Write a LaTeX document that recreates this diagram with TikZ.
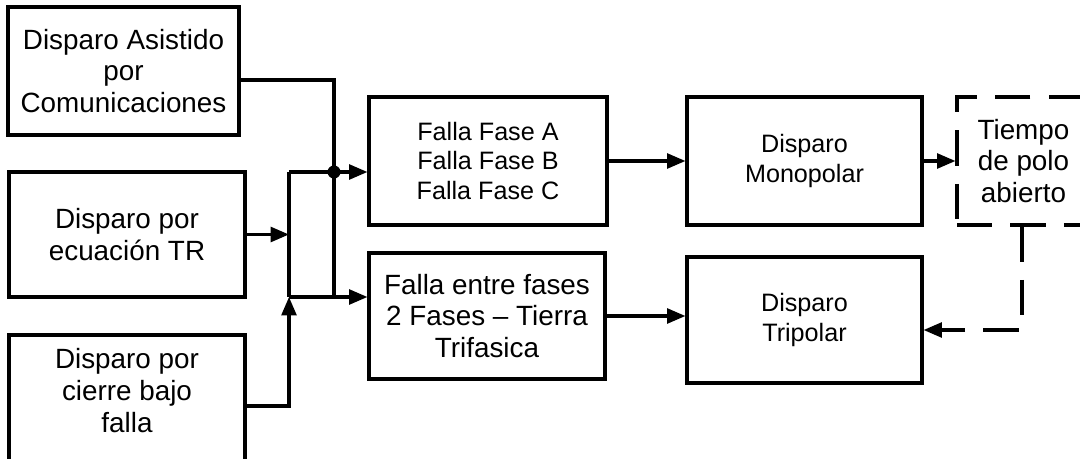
\documentclass[tikz,border=0pt]{standalone}
\usepackage{fontspec}
\setmainfont{Liberation Sans}
\usetikzlibrary{arrows.meta}

\begin{document}
\begin{tikzpicture}[x=0.025cm, y=-0.025cm,
    caja/.style={draw, line width=2.2pt, align=center, inner sep=0pt,
        font=\fontsize{19.8}{22.7}\selectfont},
    cajachica/.style={caja, font=\fontsize{17.9}{21.3}\selectfont},
    cajapunt/.style={caja, dash pattern=on 25pt off 13pt},
    tam/.style 2 args={minimum width=#1*0.025cm, minimum height=#2*0.025cm},
    flecha/.style={line width=2.2pt, -{Triangle[length=13pt, width=10.5pt]}},
    linea/.style={line width=2.2pt}]
        \useasboundingbox (0,0) rectangle (1080,459);

        % Entradas
        \node[caja, tam={231}{128}] (asist) at (123.5,71)
            {Disparo Asistido\\por\\Comunicaciones};
        \node[caja, tam={236}{125}] (ecua) at (127,234.5)
            {Disparo por\\ecuación TR};
        \node[caja, tam={236}{132}, text depth=15pt] (cierre) at (127,401)
            {Disparo por\\cierre bajo\\falla};

        % Tipos de falla
        \node[cajachica, tam={238}{128}] (fase1) at (488,161)
            {Falla Fase A\\Falla Fase B\\Falla Fase C};
        \node[caja, tam={236}{126}] (fase2) at (487,316)
            {Falla entre fases\\2 Fases -- Tierra\\Trifasica};

        % Disparos
        \node[cajachica, tam={235}{128}] (mono) at (804.5,161)
            {Disparo\\Monopolar};
        \node[cajachica, tam={235}{126}] (tripolar) at (804.5,320)
            {Disparo\\Tripolar};
        \node[cajapunt, tam={133}{128}] (tiempo) at (1023.5,161)
            {Tiempo\\de polo\\abierto};

        % Puntos de union
        \coordinate (arriba) at (334,80);
        \coordinate (punto) at (334,172);
        \coordinate (bus1) at (289,172);
        \coordinate (bus2) at (289,297);
        \coordinate (codo) at (289,406);
        \coordinate (retorno) at (1022,330);

        % Conexiones de entrada
        \draw[linea] (asist.east |- arriba) -- (arriba) -- (arriba |- bus2);
        \draw[flecha] (ecua.east) -- (bus1 |- ecua.east);
        \draw[flecha] (cierre.east |- codo) -- (codo) -- (bus2);
        \draw[linea] (bus1) -- (bus2);
        \fill (punto) circle (6.5);
        \draw[flecha] (bus1) -- (fase1.west |- bus1);
        \draw[flecha] (bus2) -- (fase2.west |- bus2);

        % Salidas
        \draw[flecha] (fase1.east) -- (mono.west);
        \draw[flecha] (fase2.east) -- (fase2.east -| tripolar.west);
        \draw[flecha] (mono.east) -- (tiempo.west);
        \draw[flecha, dash pattern=on 25pt off 13pt] (tiempo.south -| retorno) -- (retorno) -- (tripolar.east |- retorno);

    \end{tikzpicture}
\end{document}
